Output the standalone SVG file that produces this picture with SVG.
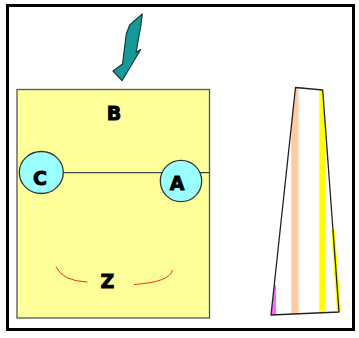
<svg xmlns="http://www.w3.org/2000/svg" width="359" height="338" viewBox="0 0 359 338">
<style>
.lbl{font-family:"DejaVu Sans","Liberation Sans",sans-serif;font-weight:bold;font-size:19px;fill:#000;stroke:#000;stroke-width:0.9;text-anchor:middle}
.node{fill:#99ffff;stroke:#333;stroke-width:1.3}
</style>
<defs>
<clipPath id="trap"><polygon points="295.5,87.5 322.7,90 339,312 271,315"/></clipPath>
</defs>
<rect x="0" y="0" width="359" height="338" fill="#fff"/>
<rect x="7.5" y="5.5" width="346" height="324" fill="#fff" stroke="#000" stroke-width="3"/>
<g id="arrow">
<polygon points="142.3,14 129.7,25 126.3,34 122.5,64 113,71 122,80.7 140.7,49.5 136,52.5 140.8,26" fill="#149a9a" stroke="#1a3a3a" stroke-width="1.2" stroke-linejoin="round"/>
</g>
<g id="B">
<rect x="17" y="89.5" width="192.5" height="228.5" fill="#ffff99" stroke="#555" stroke-width="1.3"/>
<text class="lbl" x="114" y="119.5">B</text>
</g>
<g id="connectors">
<line x1="63" y1="172.7" x2="210" y2="172.7" stroke="#444" stroke-width="1.3"/>
<path d="M56,266.5 Q62,281 87.5,282" fill="none" stroke="#ff2a2a" stroke-width="1"/>
<path d="M134,284.5 Q170,282 172.5,270" fill="none" stroke="#ff2a2a" stroke-width="1"/>
</g>
<g id="C">
<ellipse class="node" cx="41.3" cy="172.5" rx="22" ry="21"/>
<text class="lbl" x="40" y="184.5">C</text>
</g>
<g id="A">
<circle class="node" cx="181" cy="181" r="20.7"/>
<text class="lbl" x="177" y="189.5">A</text>
</g>
<g id="Z">
<text class="lbl" x="107.5" y="288">Z</text>
</g>
<g id="shape">
<g clip-path="url(#trap)">
<rect x="291.5" y="85" width="7" height="235" fill="#ffcba4"/>
<rect x="291" y="85" width="1" height="235" fill="#ffd0d8"/>
<rect x="319.3" y="85" width="5.7" height="235" fill="#ffff00"/>
<polygon points="269,285 276,285 276,316 269,316" fill="#ff66ff"/>
</g>
<polygon points="331,230 335,230 341,312 337,312" fill="#ffff00"/>
<polygon points="295.5,87.5 322.7,90 339,312 271,315" fill="none" stroke="#222" stroke-width="1.3" stroke-linejoin="round"/>
</g>
</svg>
